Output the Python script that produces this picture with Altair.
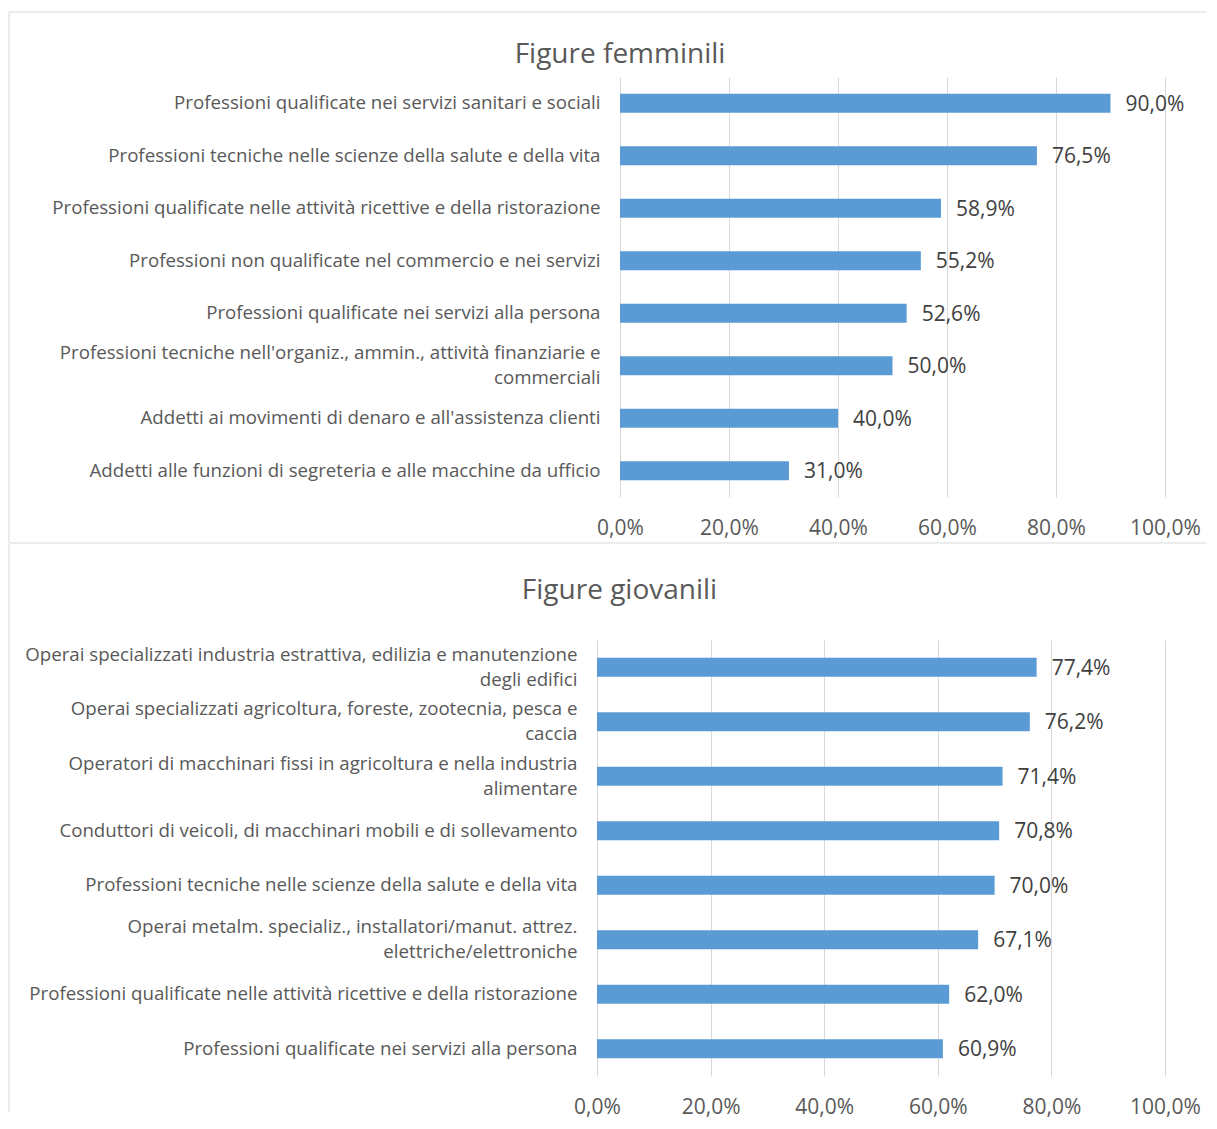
import altair as alt
import pandas as pd

FONT = "Open Sans"
BAR = "#5B9BD5"
GRID = "#D9D9D9"
TXT = "#595959"
VAL = "#404040"

fem_title = "Figure femminili"
fem_labels = [
    "Professioni qualificate nei servizi sanitari e sociali",
    "Professioni tecniche nelle scienze della salute e della vita",
    "Professioni qualificate nelle attività ricettive e della ristorazione",
    "Professioni non qualificate nel commercio e nei servizi",
    "Professioni qualificate nei servizi alla persona",
    "Professioni tecniche nell'organiz., ammin., attività finanziarie e|commerciali",
    "Addetti ai movimenti di denaro e all'assistenza clienti",
    "Addetti alle funzioni di segreteria e alle macchine da ufficio",
]
fem_values = [90.0, 76.5, 58.9, 55.2, 52.6, 50.0, 40.0, 31.0]

gio_title = "Figure giovanili"
gio_labels = [
    "Operai specializzati industria estrattiva, edilizia e manutenzione|degli edifici",
    "Operai specializzati agricoltura, foreste, zootecnia, pesca e|caccia",
    "Operatori di macchinari fissi in agricoltura e nella industria|alimentare",
    "Conduttori di veicoli, di macchinari mobili e di sollevamento",
    "Professioni tecniche nelle scienze della salute e della vita",
    "Operai metalm. specializ., installatori/manut. attrez.|elettriche/elettroniche",
    "Professioni qualificate nelle attività ricettive e della ristorazione",
    "Professioni qualificate nei servizi alla persona",
]
gio_values = [77.4, 76.2, 71.4, 70.8, 70.0, 67.1, 62.0, 60.9]

x_ticks = [0, 20, 40, 60, 80, 100]

PCT = "replace(format({}, '.1f'), '.', ',') + '%'"
LINE_H = 25


def panel(title, labels, values, width, height, pad_inner, inset, frame, title_pos):
    # inset: pixels between the left edge of the view and the 0 of the axis
    df = pd.DataFrame({"cat": labels, "v": values})
    x_min = -100.0 * inset / (width - inset)
    y = alt.Y(
        "cat:N", sort=labels, title=None,
        scale=alt.Scale(paddingInner=pad_inner, paddingOuter=pad_inner / 2),
        axis=alt.Axis(
            labelExpr="split(datum.label, '|')", labelAlign="right",
            labelBaseline="middle", labelPadding=20, labelLimit=900,
            labelFontSize=18.7, labelColor=TXT, labelFont=FONT,
            labelLineHeight=LINE_H, ticks=False, tickSize=0, domain=False,
            grid=False, offset=-inset,
            labelOffset={
                "condition": {"test": "indexof(datum.value, '|') >= 0",
                              "value": -LINE_H / 2},
                "value": 0,
            },
        ),
    )
    x = alt.X(
        "v:Q", title=None,
        scale=alt.Scale(domain=[x_min, 100], nice=False, zero=False),
        axis=alt.Axis(
            values=x_ticks, labelExpr=PCT.format("datum.value"), grid=True,
            gridColor=GRID, gridWidth=1, domain=False, ticks=False,
            tickSize=0, labelPadding=20, labelFontSize=21,
            labelColor=TXT, labelFont=FONT, labelFlush=False,
        ),
    )
    base = alt.Chart(df).encode(y=y, x=x)
    bars = base.mark_bar(color=BAR).encode(x2=alt.datum(0))
    vals = base.mark_text(
        align="left", baseline="middle", dx=15, dy=1.5, font=FONT,
        fontSize=21, color=VAL,
    ).transform_calculate(lab=PCT.format("datum.v")).encode(text="lab:N")

    tdf = pd.DataFrame({"t": [title]})
    ttl = alt.Chart(tdf).mark_text(
        font=FONT, fontSize=28, color=TXT, align="center", baseline="alphabetic"
    ).encode(text="t:N", x=alt.value(title_pos[0]), y=alt.value(title_pos[1]))

    fdf = pd.DataFrame({"k": [0]})
    rules = []
    for (x1, y1, x2, y2) in frame:
        rules.append(
            alt.Chart(fdf).mark_rule(color=GRID, strokeWidth=1).encode(
                x=alt.value(x1), x2=alt.value(x2),
                y=alt.value(y1), y2=alt.value(y2),
            )
        )
    return alt.layer(bars, vals, ttl, *rules).properties(width=width, height=height)


top = panel(
    fem_title, fem_labels, fem_values, 568, 420, 0.638, 23,
    frame=[(-588, -65, -588, 466), (-588, -65, 610, -65), (-588, 466, 610, 466)],
    title_pos=(23, -14),
)
bottom = panel(
    gio_title, gio_labels, gio_values, 568, 436, 0.652, 0,
    frame=[(-588, -96, -588, 472)],
    title_pos=(22.5, -41),
)

chart = alt.vconcat(top, bottom, spacing=-1).properties(
    padding={"left": 0, "top": 3, "right": 0, "bottom": 3}
).configure_view(stroke=None)

chart.save("out.html", embed_options={"renderer": "svg", "actions": False})
